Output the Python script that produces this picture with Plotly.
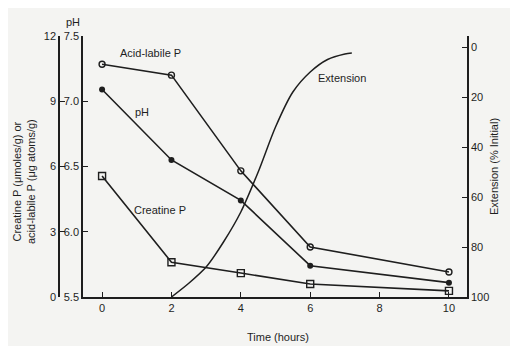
import plotly.graph_objects as go

# ---- data ----
time_h = [0, 2, 4, 6, 10]
acid_labile_p = [10.7, 10.2, 5.8, 2.3, 1.15]
ph_values = [7.09, 6.55, 6.24, 5.74, 5.61]
creatine_p = [5.56, 1.6, 1.1, 0.6, 0.28]

ext_time = [2.0, 2.5, 3.0, 3.5, 4.0, 4.5, 5.0, 5.5, 6.0, 6.5, 7.0, 7.2]
ext_pct = [100, 94.5, 88, 78, 66, 50, 32, 18, 10, 5, 2.8, 2.4]

x_ticks = [0, 2, 4, 6, 8, 10]
left_ticks = [0, 3, 6, 9, 12]
ph_ticks = [5.5, 6.0, 6.5, 7.0, 7.5]
ph_labels = ["5.5", "6.0", "6.5", "7.0", "7.5"]
ext_ticks = [0, 20, 40, 60, 80, 100]

# page body has an 8px default margin; size the figure to the visible area
OFF = 8
W, H = 518 - OFF, 346 - OFF
INK = "#1e1e1e"
FONT = "Liberation Sans"

def px(x):
    return (x - OFF) / W

def py(y):
    return 1 - (y - OFF) / H

fig = go.Figure()

line = dict(color=INK, width=1.6)

fig.add_trace(go.Scatter(x=time_h, y=acid_labile_p, mode="lines+markers", yaxis="y2",
                         line=line, marker=dict(symbol="circle-open", size=6, color=INK,
                                                line=dict(width=1.4, color=INK)),
                         name="Acid-labile P"))
fig.add_trace(go.Scatter(x=time_h, y=ph_values, mode="lines+markers", yaxis="y",
                         line=line, marker=dict(symbol="circle", size=6, color=INK),
                         name="pH"))
fig.add_trace(go.Scatter(x=time_h, y=creatine_p, mode="lines+markers", yaxis="y2",
                         line=line, marker=dict(symbol="square-open", size=7, color=INK,
                                                line=dict(width=1.4, color=INK)),
                         name="Creatine P"))
fig.add_trace(go.Scatter(x=ext_time, y=ext_pct, mode="lines", yaxis="y3",
                         line=dict(color=INK, width=1.5, shape="spline", smoothing=0.8),
                         name="Extension"))

dom_y = [py(297), py(36)]
tickfont = dict(family=FONT, size=11, color=INK)

fig.update_layout(
    template="none",
    width=W, height=H,
    margin=dict(l=0, r=0, t=0, b=0, pad=0, autoexpand=False),
    paper_bgcolor="#f4f4f2",
    plot_bgcolor="rgba(0,0,0,0)",
    showlegend=False,
    font=dict(family=FONT, size=11, color=INK),
    xaxis=dict(domain=[px(83), px(467)], range=[-0.55, 10.52], automargin=False,
               tickvals=x_ticks, ticks="inside", ticklen=5, tickcolor=INK,
               showline=True, linecolor=INK, linewidth=1.5, showgrid=False,
               zeroline=False, tickfont=tickfont),
    yaxis=dict(domain=dom_y, range=[5.5, 7.5], tickvals=ph_ticks, ticktext=ph_labels,
               automargin=False,
               ticks="inside", ticklen=5, tickcolor=INK, showline=True, linecolor=INK,
               linewidth=1.5, showgrid=False, zeroline=False, tickfont=tickfont,
               anchor="x", side="left"),
    yaxis2=dict(range=[0, 12], tickvals=left_ticks, overlaying="y", anchor="free",
                automargin=False,
                position=px(59), side="left", ticks="inside", ticklen=5, tickcolor=INK,
                showline=True, linecolor=INK, linewidth=1.5, showgrid=False,
                zeroline=False, tickfont=tickfont),
    yaxis3=dict(range=[100, -4.4], tickvals=ext_ticks, overlaying="y", anchor="x",
                automargin=False,
                side="right", ticks="inside", ticklen=5, tickcolor=INK, showline=True,
                linecolor=INK, linewidth=1.5, showgrid=False, zeroline=False,
                tickfont=tickfont,
                title=dict(text="Extension (% Initial)", standoff=2,
                           font=dict(family=FONT, size=11, color=INK))),
)

ann = []
def add_text(text, x, y, angle=0, size=11, xanchor="center"):
    ann.append(dict(text=text, x=px(x), y=py(y), xref="paper", yref="paper",
                    showarrow=False, textangle=angle, xanchor=xanchor, yanchor="middle",
                    font=dict(family=FONT, size=size, color=INK)))

add_text("Acid-labile P", 150, 53)
add_text("pH", 142, 112)
add_text("Creatine P", 160, 210)
add_text("Extension", 342, 78)
add_text("pH", 73, 22)
add_text("Time (hours)", 278, 337)
add_text("Creatine P (μmoles/g) or<br>acid-labile P (μg atoms/g)", 24, 182, angle=-90)

fig.update_layout(annotations=ann)

fig.write_html("out.html")
